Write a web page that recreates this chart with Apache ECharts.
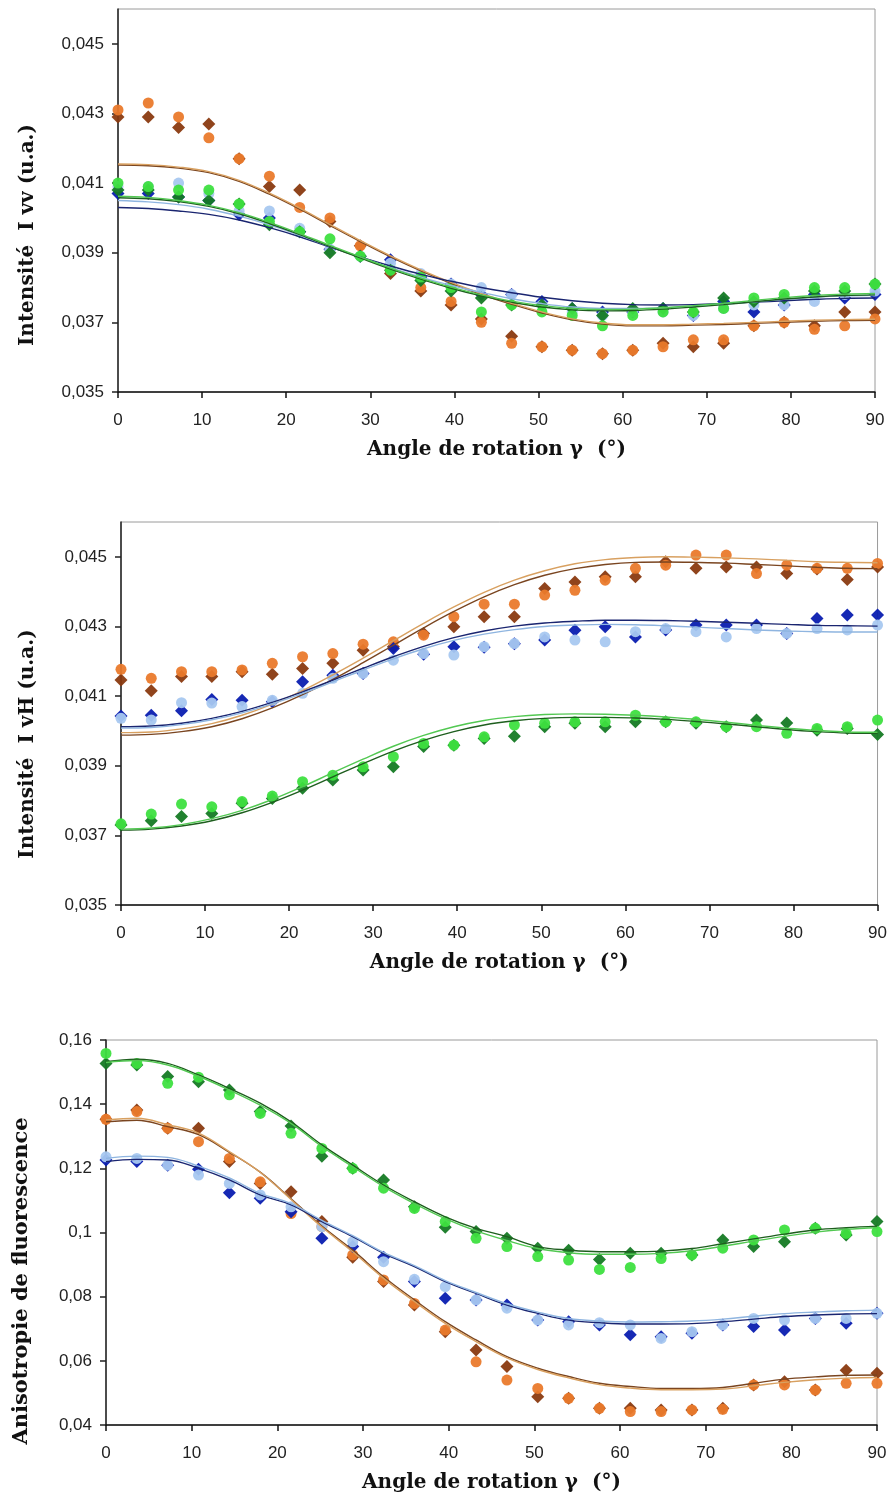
<!DOCTYPE html>
<html>
<head>
<meta charset="utf-8">
<title>Intensités et anisotropie</title>
<script src="https://cdn.jsdelivr.net/npm/echarts@6/dist/echarts.min.js"></script>
<style>
	html, body { margin: 0; padding: 0; background: #fff; }
	#main { width: 890px; height: 1503px; }
</style>
</head>
<body>
<div id="main"></div>
<script>
// angles de rotation (degrés)
var angles = [0,3.6,7.2,10.8,14.4,18,21.6,25.2,28.8,32.4,36,39.6,43.2,46.8,50.4,54,57.6,61.2,64.8,68.4,72,75.6,79.2,82.8,86.4,90];
var xTicks = [0,10,20,30,40,50,60,70,80,90];

// --- Intensité I vv ---
var vvBrown = [0.0429,0.0429,0.0426,0.0427,0.0417,0.0409,0.0408,0.0399,0.0392,0.0384,0.0379,0.0375,0.0371,0.0366,0.0363,0.0362,0.0361,0.0362,0.0364,0.0363,0.0364,0.0369,0.0370,0.0369,0.0373,0.0373];
var vvOrange = [0.0431,0.0433,0.0429,0.0423,0.0417,0.0412,0.0403,0.0400,0.0392,0.0385,0.0380,0.0376,0.0370,0.0364,0.0363,0.0362,0.0361,0.0362,0.0363,0.0365,0.0365,0.0369,0.0370,0.0368,0.0369,0.0371];
var vvNavy = [0.0407,0.0407,0.0406,0.0405,0.0401,0.0400,0.0396,0.0391,0.0389,0.0388,0.0383,0.0381,0.0378,0.0378,0.0376,0.0374,0.0373,0.0373,0.0374,0.0372,0.0376,0.0373,0.0375,0.0378,0.0377,0.0378];
var vvSky = [0.0409,0.0409,0.0410,0.0407,0.0402,0.0402,0.0397,0.0391,0.0389,0.0387,0.0384,0.0381,0.0380,0.0378,0.0375,0.0373,0.0372,0.0373,0.0373,0.0372,0.0374,0.0375,0.0375,0.0376,0.0378,0.0379];
var vvForest = [0.0408,0.0408,0.0406,0.0405,0.0404,0.0398,0.0396,0.0390,0.0389,0.0385,0.0382,0.0379,0.0377,0.0375,0.0375,0.0374,0.0372,0.0374,0.0374,0.0373,0.0377,0.0376,0.0377,0.0379,0.0379,0.0381];
var vvLime = [0.0410,0.0409,0.0408,0.0408,0.0404,0.0399,0.0396,0.0394,0.0389,0.0385,0.0383,0.0380,0.0373,0.0375,0.0373,0.0372,0.0369,0.0372,0.0373,0.0373,0.0374,0.0377,0.0378,0.0380,0.0380,0.0381];
var vvBrownFit = [0.04152,0.04150,0.04143,0.04130,0.04105,0.04068,0.04025,0.03978,0.03932,0.03888,0.03848,0.03812,0.03780,0.03752,0.03727,0.03707,0.03695,0.03690,0.03690,0.03692,0.03694,0.03697,0.03700,0.03703,0.03705,0.03706];
var vvOrangeFit = [0.04155,0.04153,0.04146,0.04133,0.04108,0.04071,0.04028,0.03981,0.03935,0.03891,0.03851,0.03815,0.03783,0.03755,0.03730,0.03710,0.03698,0.03693,0.03693,0.03695,0.03697,0.03700,0.03703,0.03706,0.03708,0.03709];
var vvNavyFit = [0.04030,0.04027,0.04020,0.04010,0.03994,0.03972,0.03946,0.03916,0.03888,0.03862,0.03838,0.03818,0.03800,0.03785,0.03772,0.03762,0.03755,0.03751,0.03750,0.03751,0.03754,0.03758,0.03762,0.03766,0.03769,0.03770];
var vvSkyFit = [0.04050,0.04046,0.04038,0.04025,0.04005,0.03980,0.03950,0.03918,0.03887,0.03857,0.03830,0.03806,0.03786,0.03768,0.03754,0.03744,0.03740,0.03740,0.03742,0.03746,0.03752,0.03759,0.03766,0.03772,0.03776,0.03778];
var vvForestFit = [0.04058,0.04055,0.04047,0.04033,0.04012,0.03984,0.03952,0.03918,0.03885,0.03853,0.03824,0.03798,0.03776,0.03758,0.03744,0.03736,0.03733,0.03734,0.03738,0.03744,0.03751,0.03759,0.03767,0.03773,0.03777,0.03779];
var vvLimeFit = [0.04062,0.04059,0.04050,0.04036,0.04015,0.03987,0.03955,0.03921,0.03888,0.03856,0.03827,0.03801,0.03779,0.03761,0.03748,0.03740,0.03737,0.03738,0.03742,0.03748,0.03755,0.03763,0.03771,0.03777,0.03781,0.03783];

// --- Intensité I vH ---
var vhBrown = [0.04146,0.04115,0.04156,0.04156,0.0417,0.04163,0.04179,0.04194,0.04232,0.04242,0.0428,0.04299,0.04328,0.04328,0.04409,0.04428,0.04443,0.04443,0.04486,0.04467,0.04471,0.04471,0.04452,0.04465,0.04435,0.04471];
var vhOrange = [0.04177,0.04151,0.0417,0.0417,0.04175,0.04194,0.04213,0.04222,0.04249,0.04256,0.04275,0.04328,0.04364,0.04364,0.0439,0.04404,0.04433,0.04467,0.04476,0.04505,0.04505,0.04452,0.04476,0.04467,0.04467,0.04481];
var vhNavy = [0.04043,0.04045,0.04058,0.0409,0.04088,0.04084,0.04141,0.0416,0.04165,0.04237,0.0422,0.04242,0.0424,0.0425,0.04261,0.04289,0.04299,0.0427,0.0429,0.04304,0.04304,0.04304,0.0428,0.04323,0.04333,0.04333];
var vhSky = [0.04036,0.04031,0.04081,0.0408,0.0407,0.04088,0.04108,0.04151,0.04165,0.04203,0.04222,0.04218,0.04242,0.04251,0.0427,0.04261,0.04256,0.04285,0.04294,0.04285,0.0427,0.04294,0.0428,0.04294,0.0429,0.04304];
var vhForest = [0.0373,0.03742,0.03754,0.03763,0.03792,0.03806,0.03835,0.03859,0.03888,0.03897,0.03955,0.03959,0.03978,0.03985,0.04012,0.04022,0.04012,0.04026,0.04026,0.04022,0.04012,0.04031,0.04023,0.04002,0.04007,0.0399];
var vhLime = [0.03733,0.03761,0.0379,0.03782,0.03797,0.03813,0.03854,0.03873,0.03897,0.03926,0.03964,0.03959,0.03983,0.04017,0.04022,0.04026,0.04026,0.04045,0.04026,0.04026,0.04012,0.04012,0.03993,0.04007,0.04012,0.04031];
var vhBrownFit = [0.03988,0.03990,0.03998,0.04012,0.04035,0.04066,0.04104,0.04148,0.04196,0.04246,0.04296,0.04343,0.04385,0.04420,0.04447,0.04466,0.04478,0.04484,0.04485,0.04484,0.04482,0.04478,0.04474,0.04470,0.04467,0.04466];
var vhOrangeFit = [0.03995,0.03997,0.04006,0.04021,0.04045,0.04077,0.04116,0.04161,0.04209,0.04259,0.04309,0.04356,0.04398,0.04433,0.04460,0.04480,0.04492,0.04498,0.04500,0.04499,0.04497,0.04494,0.04490,0.04486,0.04484,0.04483];
var vhNavyFit = [0.04012,0.04014,0.04022,0.04036,0.04056,0.04082,0.04112,0.04146,0.04180,0.04213,0.04243,0.04268,0.04287,0.04301,0.04310,0.04315,0.04318,0.04318,0.04317,0.04315,0.04312,0.04309,0.04306,0.04303,0.04302,0.04301];
var vhSkyFit = [0.04008,0.04010,0.04018,0.04032,0.04052,0.04078,0.04108,0.04141,0.04175,0.04207,0.04236,0.04260,0.04278,0.04291,0.04300,0.04304,0.04306,0.04305,0.04302,0.04298,0.04294,0.04290,0.04287,0.04285,0.04284,0.04284];
var vhForestFit = [0.03715,0.03718,0.03727,0.03742,0.03765,0.03795,0.03830,0.03868,0.03906,0.03942,0.03973,0.03998,0.04017,0.04029,0.04036,0.04039,0.04039,0.04037,0.04033,0.04027,0.04020,0.04012,0.04004,0.03998,0.03994,0.03993];
var vhLimeFit = [0.03718,0.03721,0.03731,0.03748,0.03772,0.03803,0.03840,0.03880,0.03919,0.03956,0.03987,0.04012,0.04030,0.04041,0.04047,0.04049,0.04048,0.04045,0.04040,0.04033,0.04025,0.04016,0.04008,0.04001,0.03997,0.03996];

// --- Anisotropie ---
var anBrown = [0.1353,0.1382,0.1325,0.1325,0.1221,0.1153,0.1127,0.1034,0.0923,0.0847,0.0774,0.0691,0.0634,0.0582,0.0488,0.0483,0.0452,0.0452,0.0447,0.0447,0.0452,0.0525,0.0535,0.0509,0.0571,0.0561];
var anOrange = [0.1353,0.1377,0.1325,0.1283,0.1231,0.1158,0.1059,0.1018,0.093,0.0852,0.0779,0.0696,0.0597,0.054,0.0514,0.0483,0.0452,0.0442,0.0442,0.0447,0.0449,0.0525,0.0525,0.0509,0.053,0.053];
var anNavy = [0.1226,0.1221,0.121,0.1197,0.1124,0.1107,0.1065,0.0982,0.0956,0.0923,0.0847,0.0795,0.079,0.0774,0.0727,0.0722,0.0712,0.0681,0.0675,0.0686,0.0712,0.0707,0.0696,0.0732,0.0717,0.0748];
var anSky = [0.1236,0.1231,0.121,0.1179,0.1153,0.1117,0.108,0.1018,0.0971,0.0909,0.0854,0.0831,0.079,0.0764,0.0727,0.0712,0.0719,0.0712,0.067,0.0691,0.0712,0.0732,0.0727,0.0732,0.0732,0.0748];
var anForest = [0.1527,0.1522,0.1486,0.147,0.1444,0.1377,0.1332,0.1238,0.12,0.1164,0.108,0.1016,0.1003,0.0982,0.0951,0.0945,0.0916,0.0935,0.0935,0.093,0.0977,0.0956,0.0971,0.1013,0.0992,0.1034];
var anLime = [0.1558,0.1527,0.1465,0.1484,0.1429,0.1371,0.1309,0.1262,0.12,0.1138,0.1075,0.1034,0.0982,0.0956,0.0925,0.0914,0.0885,0.0891,0.0919,0.093,0.0951,0.0977,0.1008,0.1013,0.0997,0.1003];
var anBrownFit = [0.1345,0.1350,0.1330,0.1305,0.1250,0.1188,0.1105,0.1020,0.0945,0.0862,0.0790,0.0722,0.0665,0.0613,0.0577,0.0551,0.0530,0.0520,0.0514,0.0514,0.0517,0.0530,0.0543,0.0550,0.0555,0.0556];
var anOrangeFit = [0.1351,0.1356,0.1336,0.1310,0.1252,0.1188,0.1103,0.1017,0.0940,0.0857,0.0785,0.0717,0.0660,0.0609,0.0573,0.0547,0.0526,0.0515,0.0510,0.0510,0.0512,0.0522,0.0533,0.0541,0.0546,0.0548];
var anNavyFit = [0.1221,0.1228,0.1226,0.1200,0.1164,0.1117,0.1086,0.1034,0.0987,0.0935,0.0894,0.0847,0.0810,0.0774,0.0748,0.0727,0.0719,0.0715,0.0715,0.0716,0.0722,0.0730,0.0738,0.0743,0.0746,0.0747];
var anSkyFit = [0.1231,0.1238,0.1234,0.1207,0.1170,0.1122,0.1090,0.1038,0.0990,0.0938,0.0897,0.0850,0.0813,0.0778,0.0752,0.0732,0.0724,0.0721,0.0722,0.0724,0.0730,0.0739,0.0747,0.0752,0.0756,0.0758];
var anForestFit = [0.1532,0.1540,0.1527,0.1491,0.1449,0.1403,0.1345,0.1273,0.1210,0.1148,0.1096,0.1049,0.1013,0.0987,0.0956,0.0945,0.0940,0.0940,0.0942,0.0950,0.0965,0.0980,0.0995,0.1008,0.1015,0.1020];
var anLimeFit = [0.1530,0.1536,0.1522,0.1487,0.1444,0.1397,0.1340,0.1268,0.1205,0.1143,0.1090,0.1043,0.1005,0.0975,0.0950,0.0937,0.0932,0.0932,0.0935,0.0943,0.0957,0.0973,0.0988,0.1001,0.1010,0.1015];

var yTitles = ['Intensité  I vv (u.a.)', 'Intensité  I vH (u.a.)', 'Anisotropie de fluorescence'];
var xTitle = 'Angle de rotation γ  (°)';

window.onload = function(){
	var chart = echarts.init(document.getElementById('main'));

	var ptColors = ['#8a3a10','#ea7a2c','#0a1db0','#a8c8f0','#157a24','#3ee040'];
	var ptSymbols = ['diamond','circle','diamond','circle','diamond','circle'];
	var fitColors = ['#7a4520','#d8a060','#1a2570','#8fb5e0','#1e5e1e','#52c852'];

	var panels = [
		{pts:[vvBrown,vvOrange,vvNavy,vvSky,vvForest,vvLime], fits:[vvBrownFit,vvOrangeFit,vvNavyFit,vvSkyFit,vvForestFit,vvLimeFit]},
		{pts:[vhBrown,vhOrange,vhNavy,vhSky,vhForest,vhLime], fits:[vhBrownFit,vhOrangeFit,vhNavyFit,vhSkyFit,vhForestFit,vhLimeFit]},
		{pts:[anBrown,anOrange,anNavy,anSky,anForest,anLime], fits:[anBrownFit,anOrangeFit,anNavyFit,anSkyFit,anForestFit,anLimeFit]}
	];

	function pairs(vals){
		var out = [];
		for(var i = 0;i < angles.length;i ++){
			out.push([angles[i], vals[i]]);
		}
		return out;
	}
	function fmt(v){
		return String(+v.toFixed(3)).replace('.', ',');
	}

	var grids = [
		{left:118, top:9, width:757, height:383},
		{left:121, top:522, width:757, height:383},
		{left:106, top:1040, width:771, height:385}
	];
	var yRanges = [
		{min:0.035, max:0.046, interval:0.002, showMax:false},
		{min:0.035, max:0.046, interval:0.002, showMax:false},
		{min:0.04, max:0.16, interval:0.02, showMax:true}
	];

	var xAxes = [], yAxes = [], series = [];
	for(var g = 0;g < 3;g ++){
		grids[g].show = true;
		grids[g].borderColor = '#9a9a9a';
		grids[g].borderWidth = 1;
		xAxes.push({
			gridIndex:g,
			type:'value',
			min:0,
			max:90,
			interval:10,
			name:xTitle,
			nameLocation:'middle',
			nameGap:48,
			nameTextStyle:{fontFamily:'DejaVu Serif', fontWeight:'bold', fontSize:20, color:'#111'},
			axisLine:{show:true, lineStyle:{color:'#111', width:1.5}},
			axisTick:{show:true, inside:false, length:6, lineStyle:{color:'#111', width:1.5}},
			axisLabel:{margin:20, fontFamily:'Liberation Sans', fontSize:17, color:'#222'},
			splitLine:{show:false}
		});
		yAxes.push({
			gridIndex:g,
			type:'value',
			min:yRanges[g].min,
			max:yRanges[g].max,
			interval:yRanges[g].interval,
			axisLine:{show:true, lineStyle:{color:'#222', width:1.5}},
			axisTick:{show:true, inside:false, length:6, lineStyle:{color:'#222', width:1.5}},
			axisLabel:{margin:14, fontFamily:'Liberation Sans', fontSize:17, color:'#222', showMaxLabel:yRanges[g].showMax, formatter:fmt},
			splitLine:{show:false}
		});
		for(var s = 0;s < 6;s ++){
			series.push({
				type:'scatter',
				xAxisIndex:g,
				yAxisIndex:g,
				symbol:ptSymbols[s],
				symbolSize:ptSymbols[s] == 'diamond' ? 13 : 11,
				silent:true,
				itemStyle:{color:ptColors[s], opacity:0.95},
				data:pairs(panels[g].pts[s]),
				z:2
			});
		}
		for(var s = 0;s < 6;s ++){
			series.push({
				type:'line',
				xAxisIndex:g,
				yAxisIndex:g,
				smooth:0.4,
				showSymbol:false,
				silent:true,
				lineStyle:{color:fitColors[s], width:1.4},
				data:pairs(panels[g].fits[s]),
				z:3
			});
		}
	}

	chart.setOption({
		animation:false,
		grid:grids,
		xAxis:xAxes,
		yAxis:yAxes,
		series:series,
		graphic:[
			{type:'text', x:28, y:235, rotation:Math.PI/2, style:{text:yTitles[0], fontFamily:'DejaVu Serif', fontWeight:'bold', fontSize:20, fill:'#111', align:'center', verticalAlign:'middle'}},
			{type:'text', x:28, y:744, rotation:Math.PI/2, style:{text:yTitles[1], fontFamily:'DejaVu Serif', fontWeight:'bold', fontSize:20, fill:'#111', align:'center', verticalAlign:'middle'}},
			{type:'text', x:22, y:1281, rotation:Math.PI/2, style:{text:yTitles[2], fontFamily:'DejaVu Serif', fontWeight:'bold', fontSize:21, fill:'#111', align:'center', verticalAlign:'middle'}}
		]
	});
};
</script>
</body>
</html>
